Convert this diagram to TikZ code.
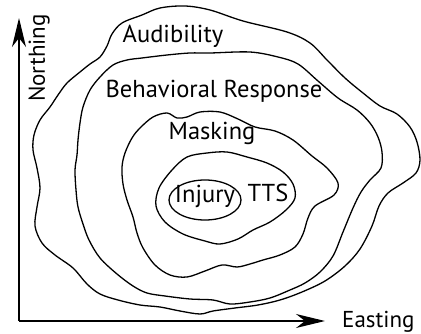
\documentclass[tikz,border=0pt]{standalone}
\usepackage{fontspec}
\setmainfont{PT Sans}
\usetikzlibrary{arrows.meta}

\begin{document}
\begin{tikzpicture}[x=1pt,y=-1pt,
    contour/.style={line width=1.3pt, smooth cycle, tension=0.55},
    zone/.style={font=\fontsize{24.5}{28}\selectfont, inner sep=0pt},
    axislabel/.style={font=\fontsize{23}{27}\selectfont, inner sep=0pt},
    axis/.style={line width=1.5pt, -{Stealth[length=29pt, width=14pt, inset=9pt]}}]
        \useasboundingbox (0,0) rectangle (421,334);
        \coordinate (o) at (19,321);
        \coordinate (ytip) at (19,18);
        \coordinate (xtip) at (325,321);
        \draw[axis] (o) -- (ytip);
        \draw[axis] (o) -- (xtip);
        \node[axislabel, rotate=90, anchor=base] (northing) at (45,58) {Northing};
        \node[axislabel, anchor=base west] (easting) at (342,327) {Easting};
        % audibility
        \draw[contour] plot coordinates {(142,15) (160,8) (185,6) (210,10) (243,21) (287,32)
            (310,43) (327,60) (345,78) (363,93) (380,106) (397,114) (410,127) (417,142)
            (420,160) (416,173) (403,183) (388,193) (379,206) (372,226) (360,249) (345,266)
            (325,281) (302,292) (280,300) (258,305) (235,308) (213,311) (200,314) (180,311)
            (160,307) (140,305) (118,300) (100,294) (87,284) (73,268) (55,255) (42,243)
            (35,226) (37,207) (40,188) (37,168) (33,150) (34,135) (40,120) (50,107) (58,95)
            (67,83) (80,72) (90,64) (100,57) (107,46) (112,34) (122,23)};
        % behavioral response
        \draw[contour] plot coordinates {(142,58) (167,55) (190,53) (210,53) (250,52) (278,57)
            (298,64) (318,81) (338,98) (357,110) (370,123) (378,137) (382,152) (381,168)
            (370,180) (361,192) (353,208) (343,232) (333,256) (320,272) (305,283) (290,290)
            (270,298) (250,302) (230,304) (213,300) (190,299) (165,296) (147,293) (133,286)
            (117,274) (100,258) (89,240) (83,224) (78,207) (76,190) (75,170) (77,155)
            (78,140) (80,123) (83,107) (90,90) (100,77) (113,65) (127,60)};
        % masking
        \draw[contour] plot coordinates {(140,128) (153,117) (167,113) (177,118) (187,117)
            (200,112) (220,112) (238,119) (255,127) (275,131) (293,140) (312,156) (327,168)
            (338,183) (334,195) (315,206) (308,218) (303,234) (295,247) (280,255) (263,260)
            (250,264) (237,267) (222,265) (205,271) (187,277) (170,275) (155,265) (143,248)
            (137,233) (133,217) (127,200) (123,184) (122,167) (125,153) (132,138)};
        % tts
        \draw[contour] plot coordinates {(187,157) (207,153) (227,152) (247,157) (267,163)
            (283,172) (293,184) (295,198) (286,210) (270,222) (253,230) (238,239) (220,244)
            (205,241) (183,234) (165,222) (156,206) (159,188) (172,170)};
        \node[zone, anchor=base] (audibility) at (173,43) {Audibility};
        \node[zone, anchor=base] (behav) at (214,98) {Behavioral Response};
        \node[zone, anchor=base] (masking) at (212,140) {Masking};
        \node[zone, anchor=base] (tts) at (268,202) {TTS};
        \node[zone, anchor=base] (injury) at (205,203) {Injury};
        \draw[line width=1.3pt] (205,200) ellipse [x radius=36, y radius=20];
\end{tikzpicture}
\end{document}
